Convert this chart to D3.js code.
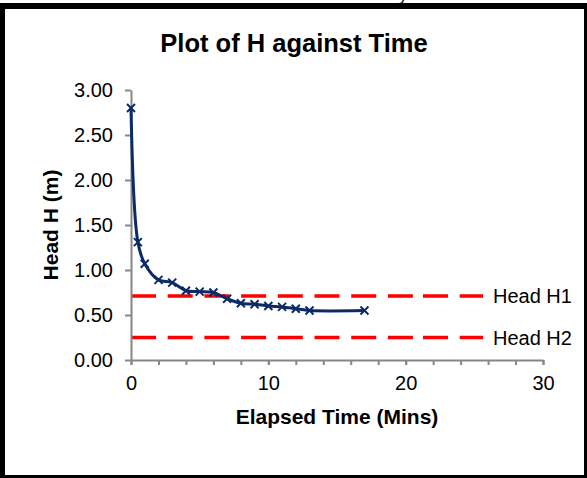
<!DOCTYPE html>
<html>
<head>
<meta charset="utf-8">
<script src="https://cdn.jsdelivr.net/npm/d3@7"></script>
<style>
  html, body { margin: 0; padding: 0; background: #fff; }
  svg { display: block; }
  text { font-family: "Liberation Sans", Arial, sans-serif; }
</style>
</head>
<body>
<svg id="chart" width="587" height="478"></svg>
<script>
// ---- data ----
const times = [0, 0.5, 1, 2, 3, 4, 5, 6, 7, 8, 9, 10, 11, 12, 13, 17];
const heads = [2.80, 1.31, 1.07, 0.89, 0.86, 0.77, 0.76, 0.75, 0.68, 0.63, 0.62, 0.60, 0.59, 0.57, 0.55, 0.55];
const refNames = ["Head H1", "Head H2"];
const refValues = [0.71, 0.25];
const refTimes = [0, 30];
const xTicks = [0, 10, 20, 30];
const xMinorTicks = [0, 2, 4, 6, 8, 10, 12, 14, 16, 18, 20, 22, 24, 26, 28, 30];
const yTicks = [0, 0.5, 1.0, 1.5, 2.0, 2.5, 3.0];
const titleText = "Plot of H against Time";
const xTitle = "Elapsed Time (Mins)";
const yTitle = "Head H (m)";

// ---- layout ----
const svg = d3.select("#chart");
const W = 587, H = 478;
const plot = { left: 131, right: 543, top: 90, bottom: 360 };

// frame
svg.append("rect").attr("x", 0).attr("y", 3).attr("width", W).attr("height", H - 3).attr("fill", "#000");
svg.append("rect").attr("x", 5).attr("y", 9).attr("width", 579).attr("height", 466).attr("fill", "#fff");
// glyph partly hidden above the frame, as in the reference
svg.append("text").attr("x", 399).attr("y", 1).attr("font-size", 16).attr("fill", "#000").text("y");

const x = d3.scaleLinear().domain([0, 30]).range([plot.left, plot.right]);
const y = d3.scaleLinear().domain([0, 3]).range([plot.bottom, plot.top]);

const axisColor = "#868686";

// title
svg.append("text")
  .attr("x", 294).attr("y", 52)
  .attr("text-anchor", "middle")
  .attr("font-size", 25.5).attr("font-weight", "bold")
  .text(titleText);

// reference lines
const refColor = "#FF0000";
const refLine = d3.line().x(d => x(d[0])).y(d => y(d[1]));
refValues.forEach(v => {
  svg.append("path")
    .attr("d", refLine(refTimes.map(t => [t, v])))
    .attr("fill", "none").attr("stroke", refColor).attr("stroke-width", 3.5)
    .attr("stroke-dasharray", "25,11.7");
});

// y axis
const yAxis = d3.axisLeft(y).tickValues(yTicks).tickFormat(d3.format(".2f")).tickSize(6).tickSizeOuter(0);
const gy = svg.append("g").attr("transform", `translate(${plot.left},0)`).call(yAxis);
gy.select(".domain").attr("stroke", axisColor).attr("stroke-width", 2);
gy.selectAll(".tick line").attr("stroke", axisColor).attr("stroke-width", 2);
gy.selectAll(".tick text").attr("font-size", 20).attr("fill", "#000").attr("x", -18)
  .attr("font-family", "'Liberation Sans', Arial, sans-serif");

// x axis (minor ticks)
const xAxisMinor = d3.axisBottom(x).tickValues(xMinorTicks).tickFormat("").tickSize(5).tickSizeOuter(0);
const gxm = svg.append("g").attr("transform", `translate(0,${plot.bottom})`).call(xAxisMinor);
gxm.select(".domain").attr("stroke", axisColor).attr("stroke-width", 2);
gxm.selectAll(".tick line").attr("stroke", axisColor).attr("stroke-width", 2);

const xAxis = d3.axisBottom(x).tickValues(xTicks).tickFormat(d3.format("d")).tickSize(5).tickSizeOuter(0);
const gx = svg.append("g").attr("transform", `translate(0,${plot.bottom})`).call(xAxis);
gx.select(".domain").remove();
gx.selectAll(".tick text").attr("font-size", 20).attr("fill", "#000").attr("y", 16)
  .attr("font-family", "'Liberation Sans', Arial, sans-serif");
gx.selectAll(".tick line").attr("stroke", axisColor).attr("stroke-width", 2);

// axis titles
svg.append("text")
  .attr("x", (plot.left + plot.right) / 2).attr("y", 424)
  .attr("text-anchor", "middle").attr("font-size", 21).attr("font-weight", "bold")
  .text(xTitle);
svg.append("text")
  .attr("transform", `translate(58,${(plot.top + plot.bottom) / 2}) rotate(-90)`)
  .attr("text-anchor", "middle").attr("font-size", 21).attr("font-weight", "bold")
  .text(yTitle);

// data curve
const lineColor = "#0B2A66";
const curve = d3.line().x((d, i) => x(times[i])).y(d => y(d)).curve(d3.curveCatmullRom.alpha(0.5));
svg.append("path").attr("d", curve(heads))
  .attr("fill", "none").attr("stroke", lineColor).attr("stroke-width", 3);

const m = 4;
const markers = svg.append("g");
heads.forEach((h, i) => {
  const cx = x(times[i]), cy = y(h);
  markers.append("path")
    .attr("d", `M${cx - m},${cy - m}L${cx + m},${cy + m}M${cx - m},${cy + m}L${cx + m},${cy - m}`)
    .attr("stroke", lineColor).attr("stroke-width", 2).attr("fill", "none");
});

// legend (overlays reference lines)
const legend = svg.append("g");
legend.append("rect").attr("x", 418).attr("y", 280).attr("width", 165).attr("height", 72).attr("fill", "#fff");
refNames.forEach((name, i) => {
  const ly = y(refValues[i]);
  legend.append("line")
    .attr("x1", 423).attr("x2", 483).attr("y1", ly).attr("y2", ly)
    .attr("stroke", refColor).attr("stroke-width", 3.5).attr("stroke-dasharray", "25,11.7");
  legend.append("text")
    .attr("x", 493).attr("y", ly).attr("dy", "0.35em")
    .attr("font-size", 20).attr("fill", "#000")
    .text(name);
});
</script>
</body>
</html>
